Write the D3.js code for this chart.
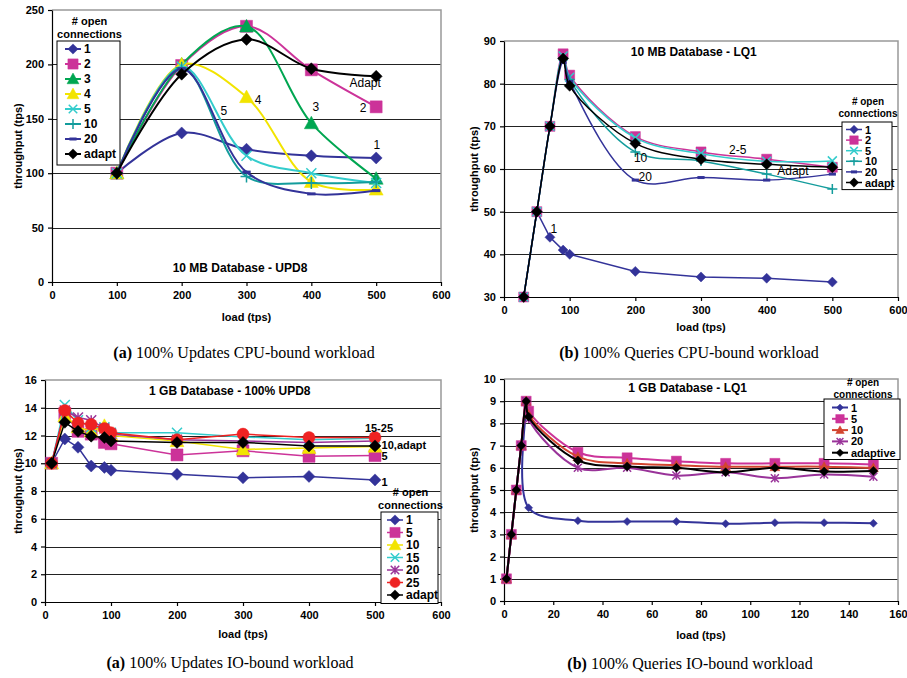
<!DOCTYPE html>
<html>
<head>
<meta charset="utf-8">
<script src="https://cdn.jsdelivr.net/npm/d3@7"></script>
<style>
body { margin: 0; background: #fff; }
svg { display: block; font-family: "Liberation Sans", Arial, sans-serif; }
</style>
</head>
<body>
<svg id="fig" width="907" height="678"></svg>
<script>
// (a) 10 MB database, UPD8 (CPU-bound updates)
let loadA = [100, 200, 300, 400, 500];
let a1 = [100, 137, 122, 116, 114];
let a2 = [100, 199, 235, 195, 161];
let a3 = [100, 200, 235, 146, 95];
let a4 = [100, 200, 170, 92, 85];
let a5 = [100, 198, 116, 100, 91];
let a10 = [100, 197, 97, 91, 92];
let a20 = [100, 196, 101, 81, 84];
let aAdapt = [100, 191, 223, 196, 189];

// (b) 10 MB database, LQ1 (CPU-bound queries)
let loadB = [30, 50, 70, 90, 100, 200, 300, 400, 500];
let b1 = [30, 50, 44, 41, 40, 36, 34.7, 34.4, 33.5];
let b2 = [30, 50, 70, 87, 82, 67.6, 64, 62.3, 60.4];
let b5 = [30, 50, 70, 86.5, 81.5, 67.3, 63.6, 61.8, 61.9];
let b10 = [30, 50, 70, 86, 81, 64, 61.9, 58.8, 55.3];
let b20 = [30, 50, 70, 85, 80.5, 57.4, 58, 57.4, 58.8];
let bAdapt = [30, 50, 70, 85.9, 79.5, 66, 62.3, 61.1, 60.4];

// (c) 1 GB database, 100% UPD8 (IO-bound updates)
let loadC = [10, 30, 50, 70, 90, 100, 200, 300, 400, 500];
let c1 = [10, 11.75, 11.15, 9.8, 9.7, 9.5, 9.2, 8.95, 9.05, 8.8];
let c5 = [10, 13.6, 12.3, 12.1, 11.5, 11.4, 10.6, 10.9, 10.5, 10.55];
let c10 = [10, 13.4, 12.6, 12.3, 12.7, 12.0, 11.6, 11.0, 11.1, 11.2];
let c15 = [10, 14.2, 13.1, 12.6, 12.6, 12.2, 12.2, 11.9, 11.7, 11.8];
let c20 = [10, 13.8, 13.3, 13.1, 12.5, 12.1, 11.7, 11.6, 11.5, 11.6];
let c25 = [10, 13.8, 12.9, 12.8, 12.5, 12.2, 11.7, 12.1, 11.85, 11.85];
let cAdapt = [10, 12.95, 12.3, 11.95, 11.85, 11.6, 11.5, 11.5, 11.25, 11.25];

// (d) 1 GB database, LQ1 (IO-bound queries)
let loadD = [1, 3, 5, 7, 9, 10, 30, 50, 70, 90, 110, 130, 150];
let d1 = [1, 3, 5, 7, 8.9, 4.2, 3.62, 3.58, 3.58, 3.48, 3.53, 3.53, 3.5];
let d5 = [1, 3, 5, 7, 9, 8.55, 6.7, 6.45, 6.3, 6.2, 6.2, 6.2, 6.15];
let d10 = [1, 3, 5, 7, 9, 8.4, 6.5, 6.2, 6.12, 6.05, 6.05, 6.05, 6.0];
let d20 = [1, 3, 5, 7, 9, 8.2, 6.0, 6.0, 5.65, 5.8, 5.53, 5.7, 5.6];
let dAdapt = [1, 3, 5, 7, 9, 8.3, 6.33, 6.06, 6.0, 5.8, 6.0, 5.83, 5.86];

let navy = '#333399', magenta = '#CC3399', green = '#00A651', yellow = '#F2E400',
    cyan = '#33CCCC', teal = '#139C9C', purple = '#993399', red = '#EE2222',
    brick = '#D2452F', black = '#000';

let svg = d3.select('#fig');

function markerPath(shape, r) {
  switch (shape) {
    case 'diamond': return `M0,${-r}L${r},0L0,${r}L${-r},0Z`;
    case 'square': return `M${-r},${-r}H${r}V${r}H${-r}Z`;
    case 'triangle': return `M0,${-r}L${r},${r * 0.8}L${-r},${r * 0.8}Z`;
    case 'circle': return `M${-r},0A${r},${r} 0 1,0 ${r},0A${r},${r} 0 1,0 ${-r},0Z`;
    case 'x': return `M${-r},${-r}L${r},${r}M${r},${-r}L${-r},${r}`;
    case 'plus': return `M${-r},0H${r}M0,${-r}V${r}`;
    case 'star': return `M${-r},${-r}L${r},${r}M${r},${-r}L${-r},${r}M0,${-r}V${r}`;
    case 'dash': return `M${-r * 0.6},0H${r * 0.6}`;
  }
}
let filled = { diamond: 1, square: 1, triangle: 1, circle: 1 };

function drawMarker(g, shape, r, color, x, y) {
  g.append('path')
    .attr('transform', `translate(${x},${y})`)
    .attr('d', markerPath(shape, r))
    .attr('fill', filled[shape] ? color : 'none')
    .attr('stroke', color)
    .attr('stroke-width', filled[shape] ? 0.5 : (shape === 'dash' ? 3 : 1.5));
}

function panel(cfg) {
  let g = svg.append('g');
  let x = d3.scaleLinear().domain(cfg.xDomain).range([cfg.left, cfg.right]);
  let y = d3.scaleLinear().domain(cfg.yDomain).range([cfg.bottom, cfg.top]);
  let yTicks = d3.range(cfg.yDomain[0], cfg.yDomain[1] + 1e-9, cfg.yStep);
  let xTicks = d3.range(cfg.xDomain[0], cfg.xDomain[1] + 1e-9, cfg.xStep);

  // gridlines
  g.append('g').selectAll('line').data(yTicks.slice(1, -1)).join('line')
    .attr('x1', cfg.left).attr('x2', cfg.right)
    .attr('y1', d => Math.round(y(d)) + 0.5).attr('y2', d => Math.round(y(d)) + 0.5)
    .attr('stroke', '#222').attr('stroke-width', 1);
  // top / right frame
  g.append('path')
    .attr('d', `M${cfg.left},${y(cfg.yDomain[1])}H${cfg.right}V${cfg.bottom}`)
    .attr('fill', 'none').attr('stroke', '#999').attr('stroke-width', 1.5);

  let xa = g.append('g').attr('transform', `translate(0,${cfg.bottom})`)
    .call(d3.axisBottom(x).tickValues(xTicks).tickSize(4).tickSizeOuter(0).tickPadding(5));
  let ya = g.append('g').attr('transform', `translate(${cfg.left},0)`)
    .call(d3.axisLeft(y).tickValues(yTicks).tickSize(4).tickSizeOuter(0).tickPadding(4));
  [xa, ya].forEach(a => {
    a.selectAll('text').attr('font-size', 11).attr('font-weight', 'bold')
      .attr('font-family', '"Liberation Sans", Arial, sans-serif').attr('fill', '#000');
    a.selectAll('line, path').attr('stroke', '#000').attr('stroke-width', 1.2);
  });

  // series
  cfg.series.forEach(s => {
    let pts = cfg.load.map((v, i) => [v, s.v[i]]);
    let line = d3.line().x(d => x(d[0])).y(d => y(d[1]))
      .curve(s.straight || !cfg.smooth ? d3.curveLinear : d3.curveCatmullRom.alpha(0.5));
    g.append('path').attr('d', line(pts)).attr('fill', 'none')
      .attr('stroke', s.color).attr('stroke-width', cfg.lineW);
    pts.forEach(p => drawMarker(g, s.shape, s.r, s.color, x(p[0]), y(p[1])));
  });

  // chart title
  g.append('text').attr('x', x(cfg.title[1])).attr('y', y(cfg.title[2]))
    .attr('text-anchor', 'middle').attr('dominant-baseline', 'central')
    .attr('font-size', 12).attr('font-weight', 'bold').text(cfg.title[0]);

  // annotations
  (cfg.notes || []).forEach(n => {
    g.append('text').attr('x', x(n[1])).attr('y', y(n[2]))
      .attr('text-anchor', n[3] || 'middle').attr('dominant-baseline', 'central')
      .attr('font-size', cfg.noteSize).attr('font-weight', cfg.noteBold ? 'bold' : 'normal')
      .text(n[0]);
  });

  // axis titles
  g.append('text').attr('x', (cfg.left + cfg.right) / 2).attr('y', cfg.xLabelY)
    .attr('text-anchor', 'middle').attr('dominant-baseline', 'central')
    .attr('font-size', 11).attr('font-weight', 'bold').text('load (tps)');
  g.append('text')
    .attr('transform', `translate(${cfg.yLabelX},${(cfg.top + cfg.bottom) / 2}) rotate(-90)`)
    .attr('text-anchor', 'middle').attr('dominant-baseline', 'central')
    .attr('font-size', 11).attr('font-weight', 'bold').text('throughput (tps)');

  // legend
  let L = cfg.legend;
  let cx = L.left + L.width / 2;
  g.append('text').attr('x', cx + 1).attr('y', L.top - L.titleGap - L.font * 1.15)
    .attr('text-anchor', 'middle').attr('dominant-baseline', 'central')
    .attr('font-size', L.font).attr('font-weight', 'bold').text('# open');
  g.append('text').attr('x', cx + 1).attr('y', L.top - L.titleGap)
    .attr('text-anchor', 'middle').attr('dominant-baseline', 'central')
    .attr('font-size', L.font).attr('font-weight', 'bold').text('connections');
  g.append('rect').attr('x', L.left).attr('y', L.top).attr('width', L.width)
    .attr('height', L.row * cfg.series.length + 4)
    .attr('fill', '#fff').attr('stroke', '#000').attr('stroke-width', 1);
  cfg.series.forEach((s, i) => {
    let ry = L.top + L.first + i * L.row;
    g.append('line').attr('x1', L.left + L.pad).attr('x2', L.left + L.pad + 16)
      .attr('y1', ry).attr('y2', ry).attr('stroke', s.color).attr('stroke-width', cfg.lineW);
    drawMarker(g, s.shape, s.r * 0.85, s.color, L.left + L.pad + 8, ry);
    g.append('text').attr('x', L.left + L.pad + 19).attr('y', ry)
      .attr('dominant-baseline', 'central').attr('font-size', L.font + 1)
      .attr('font-weight', 'bold').text(s.name);
  });

  // caption
  let cap = g.append('text').attr('x', cfg.caption[1]).attr('y', cfg.caption[2])
    .attr('text-anchor', 'middle').attr('font-size', 16)
    .attr('font-family', '"Liberation Serif", "Times New Roman", serif');
  cap.append('tspan').attr('font-weight', 'bold').text(cfg.caption[0].split(' ')[0]);
  cap.append('tspan').text(' ' + cfg.caption[0].split(' ').slice(1).join(' '));
}

panel({
  left: 52, right: 441, top: 10, bottom: 282,
  xDomain: [0, 600], xStep: 100, yDomain: [0, 250], yStep: 50,
  load: loadA, smooth: true, lineW: 2,
  series: [
    { name: '1', v: a1, color: navy, shape: 'diamond', r: 6 },
    { name: '2', v: a2, color: magenta, shape: 'square', r: 6 },
    { name: '3', v: a3, color: green, shape: 'triangle', r: 7 },
    { name: '4', v: a4, color: yellow, shape: 'triangle', r: 7 },
    { name: '5', v: a5, color: cyan, shape: 'x', r: 5 },
    { name: '10', v: a10, color: teal, shape: 'plus', r: 6 },
    { name: '20', v: a20, color: navy, shape: 'dash', r: 7 },
    { name: 'adapt', v: aAdapt, color: black, shape: 'diamond', r: 6 }
  ],
  title: ['10 MB Database - UPD8', 290, 13],
  notes: [['5', 265, 157], ['4', 318, 167], ['3', 407, 161], ['2', 480, 160],
          ['1', 501, 126], ['Adapt', 483, 183]],
  noteSize: 12,
  xLabelY: 317, yLabelX: 18,
  legend: { left: 57, top: 41, width: 63, row: 15, first: 8, pad: 8, font: 11, titleGap: 7 },
  caption: ['(a) 100% Updates CPU-bound workload', 244, 358]
});

panel({
  left: 504, right: 898, top: 41, bottom: 297,
  xDomain: [0, 600], xStep: 100, yDomain: [30, 90], yStep: 10,
  load: loadB, smooth: true, lineW: 1.5,
  series: [
    { name: '1', v: b1, color: navy, shape: 'diamond', r: 5, straight: true },
    { name: '2', v: b2, color: magenta, shape: 'square', r: 5 },
    { name: '5', v: b5, color: cyan, shape: 'x', r: 4.5 },
    { name: '10', v: b10, color: teal, shape: 'plus', r: 5 },
    { name: '20', v: b20, color: navy, shape: 'dash', r: 6 },
    { name: 'adapt', v: bAdapt, color: black, shape: 'diamond', r: 5.5 }
  ],
  title: ['10 MB Database - LQ1', 289, 87.4],
  notes: [['1', 76, 46], ['10', 208, 62.6], ['20', 215, 58.2], ['2-5', 356, 64.5],
          ['Adapt', 440, 59.5]],
  noteSize: 12,
  xLabelY: 327, yLabelX: 474,
  legend: { left: 842, top: 122, width: 50, row: 10.6, first: 7.5, pad: 4, font: 10, titleGap: 9 },
  caption: ['(b) 100% Queries CPU-bound workload', 689, 358]
});

panel({
  left: 45, right: 441, top: 380, bottom: 602,
  xDomain: [0, 600], xStep: 100, yDomain: [0, 16], yStep: 2,
  load: loadC, smooth: false, lineW: 1.5,
  series: [
    { name: '1', v: c1, color: navy, shape: 'diamond', r: 6 },
    { name: '5', v: c5, color: magenta, shape: 'square', r: 6 },
    { name: '10', v: c10, color: yellow, shape: 'triangle', r: 7 },
    { name: '15', v: c15, color: cyan, shape: 'x', r: 5 },
    { name: '20', v: c20, color: purple, shape: 'star', r: 5 },
    { name: '25', v: c25, color: red, shape: 'circle', r: 6 },
    { name: 'adapt', v: cAdapt, color: black, shape: 'diamond', r: 6 }
  ],
  title: ['1 GB Database - 100% UPD8', 280, 15.2],
  notes: [['15-25', 506, 12.55], ['10,adapt', 510, 11.33, 'start'], ['5', 510, 10.54, 'start'],
          ['1', 510, 8.66, 'start']],
  noteSize: 11, noteBold: true,
  xLabelY: 634, yLabelX: 18,
  legend: { left: 381, top: 512, width: 57, row: 12.5, first: 8, pad: 6, font: 11, titleGap: 7 },
  caption: ['(a) 100% Updates IO-bound workload', 230, 668]
});

panel({
  left: 504, right: 898, top: 379, bottom: 601,
  xDomain: [0, 160], xStep: 20, yDomain: [0, 10], yStep: 1,
  load: loadD, smooth: true, lineW: 2,
  series: [
    { name: '1', v: d1, color: navy, shape: 'diamond', r: 4 },
    { name: '5', v: d5, color: magenta, shape: 'square', r: 5 },
    { name: '10', v: d10, color: brick, shape: 'triangle', r: 5 },
    { name: '20', v: d20, color: purple, shape: 'star', r: 4 },
    { name: 'adaptive', v: dAdapt, color: black, shape: 'diamond', r: 4.5 }
  ],
  title: ['1 GB Database - LQ1', 74.6, 9.6],
  notes: [],
  noteSize: 11,
  xLabelY: 635, yLabelX: 474,
  legend: { left: 824, top: 399, width: 76, row: 11.3, first: 8.5, pad: 8, font: 10, titleGap: 5 },
  caption: ['(b) 100% Queries IO-bound workload', 690, 669]
});
</script>
</body>
</html>
